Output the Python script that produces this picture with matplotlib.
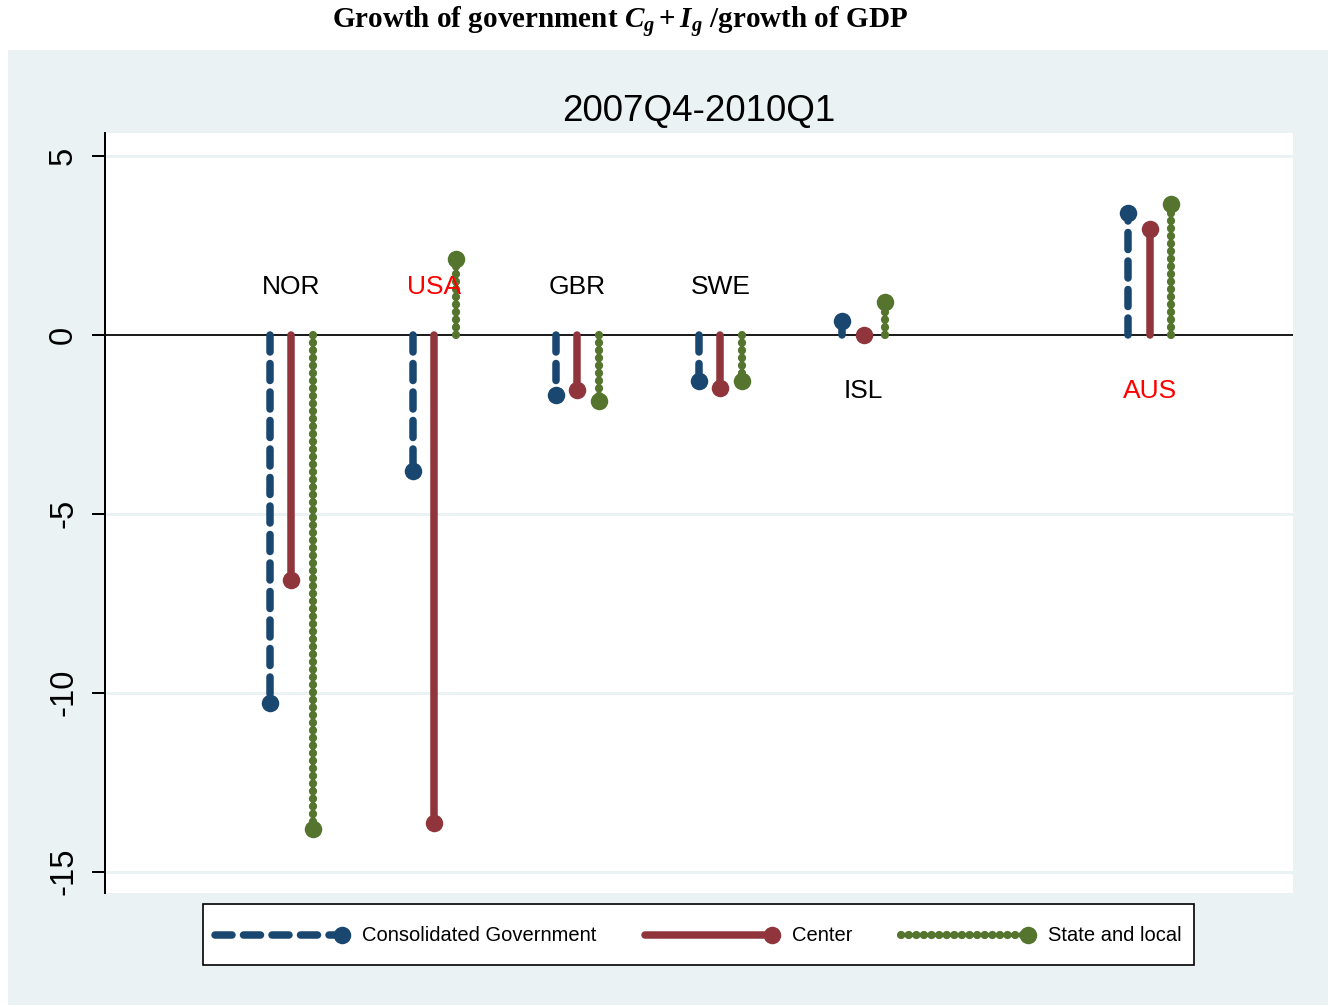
import numpy as np
import matplotlib.pyplot as plt
from matplotlib.patches import Rectangle
from matplotlib.lines import Line2D
from matplotlib.legend_handler import HandlerBase

# Werte
countries = ["NOR", "USA", "GBR", "SWE", "ISL", "AUS"]
xpos = [1, 2, 3, 4, 5, 7]
consolidated = [-10.30, -3.80, -1.68, -1.31, 0.38, 3.40]
center = [-6.85, -13.65, -1.55, -1.48, 0.0, 2.96]
state_local = [-13.82, 2.11, -1.85, -1.31, 0.92, 3.66]
highlight = ["USA", "AUS"]
below = ["ISL", "AUS"]

plt.rcParams['font.family'] = ['Liberation Sans', 'DejaVu Sans']
plt.rcParams['lines.scale_dashes'] = False
plt.rcParams['mathtext.fontset'] = 'custom'
plt.rcParams['mathtext.rm'] = 'Liberation Serif:bold'
plt.rcParams['mathtext.it'] = 'Liberation Serif:bold:italic'
plt.rcParams['mathtext.bf'] = 'Liberation Serif:bold'

navy = "#1a476f"
maroon = "#90353b"
green = "#55752f"
panel = "#eaf2f3"

px = 72 / 100  # Punkte pro Pixel
lw = 7.5 * px
ms = 17.5 * px
styles = [
    ("Consolidated Government", consolidated, -0.15, navy, lw, (0, (17 * px, 11.5 * px))),
    ("Center", center, 0.0, maroon, lw, "-"),
    ("State and local", state_local, 0.15, green, 8.2 * px, (0, (0.3 * px, 7.3 * px))),
]

fig = plt.figure(figsize=(13.33, 10.07), dpi=100)
fig.patches.append(Rectangle((8 / 1333, 1 - 1005 / 1007), 1320 / 1333, 955 / 1007,
                             transform=fig.transFigure, facecolor=panel, edgecolor="none", zorder=-5))
ax = fig.add_axes([105 / 1333, 1 - 893 / 1007, 1188 / 1333, 760 / 1007])
ax.set_facecolor("white")

for yv in [5, -5, -10, -15]:
    ax.axhline(yv, color=panel, lw=3 * px, zorder=1)
ax.axhline(0, color="#1e1e1e", lw=2 * px, zorder=2)

handles = []
for name, vals, off, col, w, ls in styles:
    x = np.array(xpos) + off
    for xi, v in zip(x, vals):
        ax.plot([xi, xi], [0, v], color=col, lw=w, ls=ls, solid_capstyle="round",
                dash_capstyle="round", zorder=3)
    ax.plot(x, vals, "o", color=col, ms=ms, mew=0, zorder=4)
    handles.append(Line2D([], [], color=col, lw=w, ls=ls, marker="o", ms=ms, mew=0,
                          dash_capstyle="round", solid_capstyle="round", label=name))

for c, xi in zip(countries, xpos):
    ly = -1.58 if c in below else 1.32
    ax.text(xi, ly, c, ha="center", va="center", fontsize=19,
            color="#ff0000" if c in highlight else "black")

ax.set_xlim(-0.3, 8.0)
ax.set_ylim(-15.6, 5.63)
ax.set_yticks([-15, -10, -5, 0, 5])
ax.set_yticklabels(["-15", "-10", "-5", "0", "5"], rotation=90, va="center", fontsize=23.5)
ax.set_xticks([])
for s in ["top", "right", "bottom"]:
    ax.spines[s].set_visible(False)
ax.spines["left"].set_linewidth(2 * px)
ax.tick_params(axis="y", length=13.5 * px, width=2 * px, pad=9)
ax.set_title("2007Q4-2010Q1", fontsize=26.5, pad=9)


# Legende: Linie mit Marker am rechten Ende
class EndMarker(HandlerBase):
    def create_artists(self, legend, orig_handle, xdescent, ydescent, width, height, fontsize, trans):
        y = height / 2 - ydescent
        line = Line2D([-xdescent, -xdescent + width - 6], [y, y])
        self.update_prop(line, orig_handle, legend)
        line.set_marker("None")
        dot = Line2D([-xdescent + width - 6], [y])
        self.update_prop(dot, orig_handle, legend)
        dot.set_linestyle("None")
        line.set_transform(trans)
        dot.set_transform(trans)
        return [line, dot]


leg = fig.legend(handles=handles, loc="center", bbox_to_anchor=(698.5 / 1333, 1 - 934.5 / 1007),
                 ncol=3, fontsize=14.5, handlelength=6.7, handleheight=2.5, handletextpad=0.6,
                 columnspacing=2.4, borderpad=0.6, fancybox=False, framealpha=1, edgecolor="black",
                 handler_map={Line2D: EndMarker()})
leg.get_frame().set_linewidth(1.2)

fig.text(620 / 1333, 1 - 29 / 1007, r"Growth of government $C_g + I_g$ /growth of GDP",
         ha="center", va="baseline", fontsize=21, fontfamily="Liberation Serif", fontweight="bold")

fig.savefig("out.png", dpi=100, facecolor="white")
